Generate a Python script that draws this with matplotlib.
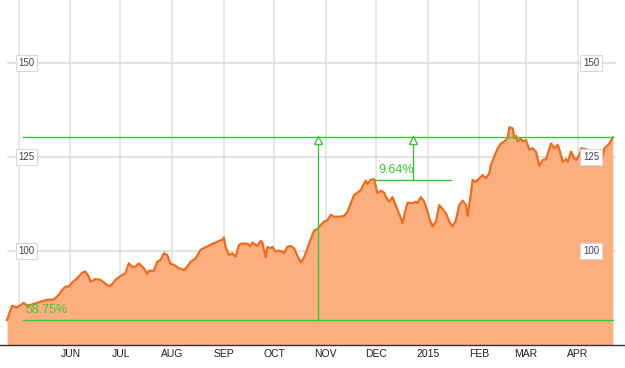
import numpy as np
import matplotlib
matplotlib.use('Agg')
import matplotlib.pyplot as plt
import matplotlib.transforms as mtransforms

plt.rcParams['font.family'] = ['Liberation Sans', 'DejaVu Sans']

# Serie de precos (dias desde 24/04/2014)
dias = [0, 3, 6, 10, 12, 16, 20, 24, 28, 31, 33, 35, 37, 39, 42, 45, 47, 49, 50, 53,
        56, 60, 62, 65, 68, 71, 73, 75, 77, 79, 82, 84, 85, 88, 90, 92, 94, 96, 98, 100,
        103, 106, 108, 110, 113, 116, 119, 122, 123, 125, 127, 129, 130, 131, 133, 135, 137, 139, 141, 144,
        146, 147, 150, 152, 153, 155, 156, 158, 159, 161, 163, 165, 166, 168, 170, 172, 174, 176, 178, 180,
        182, 184, 186, 188, 190, 192, 194, 196, 199, 202, 204, 206, 208, 210, 212, 213, 215, 216, 218, 220,
        221, 222, 224, 226, 227, 229, 231, 234, 236, 237, 239, 240, 243, 245, 246, 248, 250, 252, 253, 255,
        257, 259, 261, 263, 265, 267, 269, 271, 273, 275, 276, 278, 279, 281, 283, 285, 287, 289, 290, 292,
        294, 296, 298, 300, 301, 303, 304, 305, 306, 308, 309, 311, 313, 315, 317, 319, 321, 323, 326, 328,
        330, 331, 333, 335, 336, 338, 340, 341, 343, 344, 348, 352, 356, 358, 359, 361, 363]
preco = [81.7, 85.5, 85.1, 86.3, 85.5, 86.0, 86.6, 87.1, 87.2, 88.4, 89.7, 90.6, 90.6, 91.7, 92.8, 94.3, 94.6, 93.3, 91.9, 92.6,
         92.4, 91.0, 90.8, 92.4, 93.4, 94.2, 96.8, 95.9, 95.9, 96.8, 95.5, 94.0, 94.8, 94.8, 97.2, 97.7, 99.5, 99.0, 96.6, 96.4,
         95.5, 95.0, 95.9, 97.2, 98.1, 100.4, 101.1, 101.7, 102.0, 102.3, 102.8, 103.0, 103.7, 101.2, 99.0, 99.5, 98.6, 101.7, 102.1, 102.0,
         101.4, 102.3, 101.4, 102.8, 102.3, 98.4, 101.1, 100.8, 101.2, 99.9, 100.2, 99.9, 99.5, 101.2, 101.4, 100.8, 98.8, 97.0, 98.4, 100.8,
         103.2, 105.5, 105.9, 107.0, 107.9, 108.3, 109.7, 109.2, 109.2, 109.4, 110.5, 112.8, 115.0, 115.6, 116.3, 117.2, 118.8, 117.9, 119.0, 119.2,
         117.2, 115.4, 116.1, 115.6, 114.5, 113.2, 114.4, 111.0, 108.8, 107.5, 111.4, 112.9, 112.8, 113.2, 112.8, 114.4, 113.2, 110.5, 108.8, 106.6,
         107.9, 112.3, 111.2, 110.1, 107.9, 106.6, 108.3, 112.3, 113.5, 112.3, 109.4, 115.4, 119.0, 118.5, 119.4, 120.3, 119.4, 120.8, 123.0, 125.2,
         127.4, 128.7, 129.2, 130.1, 133.0, 132.7, 130.1, 130.7, 129.2, 130.1, 129.2, 129.6, 127.0, 127.4, 126.5, 122.7, 124.3, 124.5, 128.7, 127.4,
         128.3, 127.0, 123.8, 124.5, 123.8, 126.5, 124.7, 124.3, 125.6, 127.4, 127.0, 125.6, 123.4, 127.4, 127.8, 128.7, 130.3]

# Marcacoes
meses_dias = [7, 38, 68, 99, 130, 160, 191, 221, 252, 283, 311, 342]
meses_lbl  = ['', 'JUN', 'JUL', 'AUG', 'SEP', 'OCT', 'NOV', 'DEC', '2015', 'FEB', 'MAR', 'APR']
y_ticks    = [100, 125, 150]
txt_total  = '58.75%'
txt_parc   = '9.64%'
dia_seta1  = 186.3
dia_seta2  = 243.3
dia_ref_ini, dia_ref_fim = 220.5, 266.0
nivel_ref  = 118.96

verde   = '#33cc33'
laranja = '#f26b1d'
pessego = '#fdae7f'

dias  = np.array(dias, dtype=float)
preco = np.array(preco)
p0, p1 = preco[0], preco[-1]

fig = plt.figure(figsize=(6.25, 3.68), dpi=100)
ax = fig.add_axes([0, 23/368, 1, 345/368])
ax.set_xlim(-4.2, 370.3)
ax.set_ylim(75.08, 166.84)

# Grades
for d in meses_dias:
    ax.axvline(d, color='#e6e6e6', lw=1.3, zorder=0)
for v in y_ticks:
    ax.axhline(v, xmin=8/625, xmax=615/625, color='#dddddd', lw=1.2, zorder=0)

# Area + linha
ax.fill_between(dias, preco, 75.08, color=pessego, lw=0, zorder=1)
ax.plot(dias, preco, color=laranja, lw=1.6, zorder=2)

# Linhas verdes de variacao
x_ini = 9.6
ax.plot([x_ini, dias[-1]], [p0, p0], color=verde, lw=1, zorder=3)
ax.plot([x_ini, dias[-1]], [p1, p1], color=verde, lw=1, zorder=3)
ax.plot([dia_seta1, dia_seta1], [p0, p1], color=verde, lw=1, zorder=3)
ax.plot([dia_seta2, dia_seta2], [nivel_ref, p1], color=verde, lw=1, zorder=3)
ax.plot([dia_ref_ini, dia_ref_fim], [nivel_ref, nivel_ref], color=verde, lw=1, zorder=3)
ax.plot([dia_seta1, dia_seta2], [p1 - 0.8, p1 - 0.8], ls='none', marker='^', ms=6,
        mfc='white', mec=verde, mew=1, zorder=4)

ax.text(10.8, 84.4, txt_total, color=verde, fontsize=9, ha='left', va='center', zorder=5)
ax.text(222.3, 121.6, txt_parc, color=verde, fontsize=9, ha='left', va='center', zorder=5)

# Rotulos do eixo y (esquerda e direita)
trans = mtransforms.blended_transform_factory(ax.transAxes, ax.transData)
box = dict(boxstyle='square,pad=0.3', fc='white', ec='#d8d8d8', lw=0.8)
for v in y_ticks:
    ax.text(26.5/625, v, str(v), transform=trans, ha='center', va='center',
            fontsize=7, color='#444444', bbox=box, zorder=6)
    ax.text(591/625, v, str(v), transform=trans, ha='center', va='center',
            fontsize=7, color='#444444', bbox=box, zorder=6)

ax.set_xticks(meses_dias)
ax.set_xticklabels(meses_lbl, fontsize=7.5, color='#222222')
ax.tick_params(axis='x', length=0, pad=3)
ax.set_yticks([])
for s in ['left', 'right', 'top']:
    ax.spines[s].set_visible(False)
ax.spines['bottom'].set_color('#333333')
ax.spines['bottom'].set_linewidth(1)

fig.savefig('out.png', dpi=100)
